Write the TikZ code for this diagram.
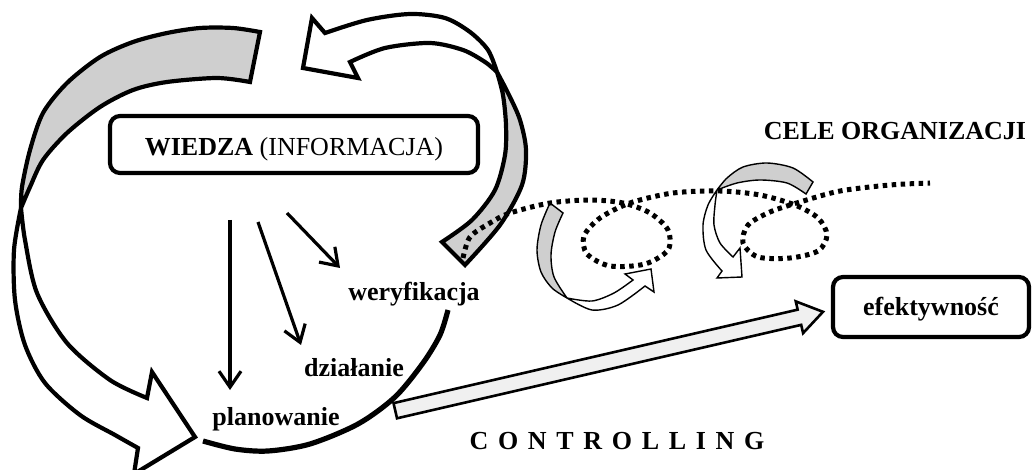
\documentclass[tikz,border=0pt]{standalone}
\usepackage{fontspec}
\setmainfont{Liberation Serif}
\usetikzlibrary{arrows.meta,shapes.arrows}
\definecolor{bandgrey}{HTML}{CFCFCF}
\definecolor{shaftgrey}{HTML}{F0F0F0}
\newcommand{\ctrlgap}{\kern 9.7pt}
\begin{document}
\begin{tikzpicture}[x=1pt,y=-1pt,
  band/.style={line width=4.2pt, line join=miter, miter limit=3},
  smallband/.style={line width=1.4pt, line join=miter, miter limit=3},
  lbl/.style={font=\fontsize{26}{30}\selectfont\bfseries, inner sep=0pt, anchor=base},
  roundbox/.style={draw, line width=4.2pt, rounded corners=10pt, inner sep=0pt},
  varrow/.style={line width=3.2pt, -{Straight Barb[length=16pt,width=22pt]}},
  dots/.style={line width=5pt, dash pattern=on 4.5pt off 4.5pt},
  cycleline/.style={line width=5.2pt},
]
\useasboundingbox (0,0) rectangle (1033,470);
\clip (0,0) rectangle (1033,470);

% ---- big loop arrow on the left: front (white) side
\filldraw[band, fill=white]
  plot[smooth] coordinates {(21,208) (14,250) (15,300) (25,345) (45,383) (80,415) (115,435) (138,448)}
  -- (134,474) -- (195,437) -- (152,372) -- (147,398)
  -- plot[smooth] coordinates {(147,398) (110,380) (67,343) (37,293) (25,240) (21,208)} -- cycle;
% back (grey) side
\filldraw[band, fill=bandgrey]
  plot[smooth] coordinates {(260,32) (233,28) (200,28) (167,33) (133,42) (100,57) (67,83) (43,113) (30,150) (22,187) (21,208)}
  -- plot[smooth] coordinates {(21,208) (30,187) (43,160) (67,133) (100,107) (133,90) (167,82) (217,78) (250,82)} -- cycle;

% ---- knowledge box
\node[roundbox, minimum width=368pt, minimum height=57pt, text height=24pt, text depth=1.8pt,
      font=\fontsize{26}{30}\selectfont] (wiedza) at (294,144.5) {\textbf{WIEDZA} (INFORMACJA)};

% ---- cycle arc under the three stages
\draw[cycleline] plot[smooth] coordinates {(203,441) (235,449) (268,451) (310,444) (358,424) (395,397) (423,363) (440,335) (448,310)};

% ---- arrows from knowledge to the stages
\coordinate (s1) at (230,220); \coordinate (e1) at (230,390);
\coordinate (s2) at (258,222); \coordinate (e2) at (301,345);
\coordinate (s3) at (287,213); \coordinate (e3) at (340,268);
\draw[varrow] (s1) -- (e1);
\draw[varrow] (s2) -- (e2);
\draw[varrow] (s3) -- (e3);

\node[lbl] (weryf) at (414,301) {weryfikacja};
\node[lbl] (dzial) at (354,376) {działanie};
\node[lbl] (plan)  at (276,425) {planowanie};

% ---- feedback arrow on the upper right: front (white) side
\filldraw[band, fill=white]
  plot[smooth] coordinates {(325,33) (367,20) (410,14) (445,18) (470,32) (488,50) (497,72)}
  -- plot[smooth] coordinates {(497,72) (485,62) (463,50) (430,43) (385,48) (350,62)}
  -- (358,78) -- (303,68) -- (312,18) -- cycle;
% back (grey) side
\filldraw[band, fill=bandgrey]
  plot[smooth] coordinates {(497,72) (509,95) (520,120) (526,150) (522,185) (500,225) (465,265)}
  -- (442,242)
  -- plot[smooth] coordinates {(442,242) (472,220) (495,190) (505,155) (506,125) (503,95) (497,72)} -- cycle;

% ---- efficiency box and the arrow leading to it
\node[roundbox, minimum width=196pt, minimum height=60pt, text height=19pt, text depth=1pt,
      font=\fontsize{26}{30}\selectfont\bfseries] (efekt) at (931,307) {efektywność};
\node[single arrow, draw, line width=2.6pt, fill=shaftgrey, inner xsep=0pt, inner ysep=6.5pt,
      minimum height=439pt, single arrow head extend=8.5pt, single arrow tip angle=68,
      rotate=13.02, anchor=tail] (flow) at (394,411) {};

% ---- small twisted arrows along the goal line
\filldraw[smallband, fill=bandgrey]
  plot[smooth] coordinates {(550,203) (541,225) (537,250) (541,272) (552,288) (567,298)}
  -- plot[smooth] coordinates {(567,298) (554,277) (551,255) (555,232) (563,213)} -- cycle;
\filldraw[smallband, fill=white]
  plot[smooth] coordinates {(567,298) (592,310) (618,305) (645,286)}
  -- (654,292) -- (651,269) -- (625,274)
  -- plot[smooth] coordinates {(633,280) (614,293) (592,301) (567,298)} -- cycle;

\filldraw[smallband, fill=bandgrey]
  plot[smooth] coordinates {(717,190) (727,178) (743,167) (767,163) (793,168) (813,182)}
  -- (806,194)
  -- plot[smooth] coordinates {(806,194) (787,183) (760,180) (737,183) (717,190)} -- cycle;
\filldraw[smallband, fill=white]
  plot[smooth] coordinates {(717,190) (708,205) (703,225) (706,250) (722,271)}
  -- (717,278) -- (742,277) -- (740,248) -- (733,257)
  -- plot[smooth] coordinates {(733,257) (720,243) (714,225) (715,205) (717,190)} -- cycle;

% ---- goal line with its two loops
\draw[dots] plot[smooth] coordinates {(463,258) (470,237) (490,223) (510,213) (550,203) (590,200) (623,203) (650,213) (668,230) (668,250) (645,264) (610,266) (587,254) (584,236) (600,218) (630,203) (673,193) (720,191) (760,195) (795,205) (818,218) (827,235) (818,251) (790,258) (758,257) (743,243) (748,225) (770,212) (800,202) (840,191) (890,185) (930,183)};

\node[lbl] (cele) at (895,140) {CELE ORGANIZACJI};
\node[lbl] (ctrl) at (617,449) {C\ctrlgap O\ctrlgap N\ctrlgap T\ctrlgap R\ctrlgap O\ctrlgap L\ctrlgap L\ctrlgap I\ctrlgap N\ctrlgap G};
\end{tikzpicture}
\end{document}
